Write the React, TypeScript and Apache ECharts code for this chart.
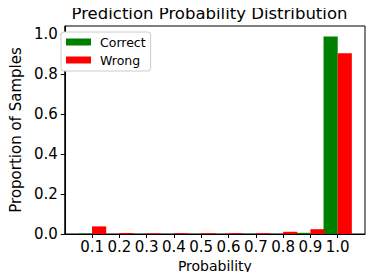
import React, { useEffect, useRef } from "react";
import * as echarts from "echarts";

const binCenters = [0.1, 0.2, 0.3, 0.4, 0.5, 0.6, 0.7, 0.8, 0.9, 1.0];
const correctValues = [0.002, 0.0005, 0.0005, 0.0005, 0.0005, 0.0005, 0.001, 0.001, 0.006, 0.987];
const wrongValues = [0.038, 0.005, 0.003, 0.004, 0.004, 0.004, 0.004, 0.011, 0.024, 0.904];
const yTicks = [0, 0.2, 0.4, 0.6, 0.8, 1.0];
const xTicks = [0.1, 0.2, 0.3, 0.4, 0.5, 0.6, 0.7, 0.8, 0.9, 1.0];

const FONT = "DejaVu Sans";

export default function App() {
  const ref = useRef<HTMLDivElement>(null);
  useEffect(() => {
    if (!ref.current) return;
    const chart = echarts.init(ref.current, null, { renderer: "svg" });
    chart.setOption({
      animation: false,
      backgroundColor: "#ffffff",
      title: {
        text: "Prediction Probability Distribution",
        left: 209.5,
        textAlign: "center",
        top: 5,
        padding: 0,
        textStyle: { fontFamily: FONT, fontSize: 16.5, fontWeight: "normal", color: "#000" },
      },
      legend: {
        orient: "vertical",
        left: 61,
        top: 32,
        padding: [3, 5, 4, 5],
        itemGap: 4,
        itemWidth: 25,
        itemHeight: 7,
        icon: "rect",
        backgroundColor: "#ffffff",
        borderColor: "#cccccc",
        borderWidth: 1,
        borderRadius: 3,
        textStyle: { fontFamily: FONT, fontSize: 12.5, color: "#000", lineHeight: 14, padding: [0, 0, 0, 4] },
        data: ["Correct", "Wrong"],
      },
      grid: {
        left: 53,
        right: 9,
        top: 26,
        bottom: 46,
        show: true,
        borderColor: "#000",
        borderWidth: 1,
        containLabel: false,
      },
      xAxis: {
        type: "value",
        min: 0,
        max: 1.1,
        interval: 0.1,
        name: "Probability",
        nameLocation: "middle",
        nameGap: 11,
        nameTextStyle: { fontFamily: FONT, fontSize: 14, color: "#000" },
        splitLine: { show: false },
        axisLine: { show: true, lineStyle: { color: "#000", width: 1 } },
        axisTick: { show: true, length: 4, lineStyle: { color: "#000" }, customValues: xTicks },
        axisLabel: {
          customValues: xTicks,
          margin: 5,
          fontFamily: FONT,
          fontSize: 15,
          color: "#000",
          formatter: (v: number) => v.toFixed(1),
        },
      },
      yAxis: {
        type: "value",
        min: 0,
        max: 1.04,
        interval: 0.2,
        name: "Proportion of Samples",
        nameLocation: "middle",
        nameGap: 34,
        nameTextStyle: { fontFamily: FONT, fontSize: 15, color: "#000" },
        splitLine: { show: false },
        axisLine: { show: true, lineStyle: { color: "#000", width: 1 } },
        axisTick: { show: true, length: 4, lineStyle: { color: "#000" }, customValues: yTicks },
        axisLabel: {
          customValues: yTicks,
          margin: 7,
          fontFamily: FONT,
          fontSize: 15,
          color: "#000",
          formatter: (v: number) => v.toFixed(1),
        },
      },
      series: [
        {
          name: "Correct",
          type: "bar",
          barWidth: 14.15,
          barGap: "0%",
          itemStyle: { color: "#008000" },
          data: binCenters.map((x, i) => [x, correctValues[i]]),
        },
        {
          name: "Wrong",
          type: "bar",
          barWidth: 14.15,
          barGap: "0%",
          itemStyle: { color: "#ff0000" },
          data: binCenters.map((x, i) => [x, wrongValues[i]]),
        },
      ],
    });
    return () => chart.dispose();
  }, []);
  return <div ref={ref} style={{ width: 374, height: 280, margin: -8 }} />;
}
